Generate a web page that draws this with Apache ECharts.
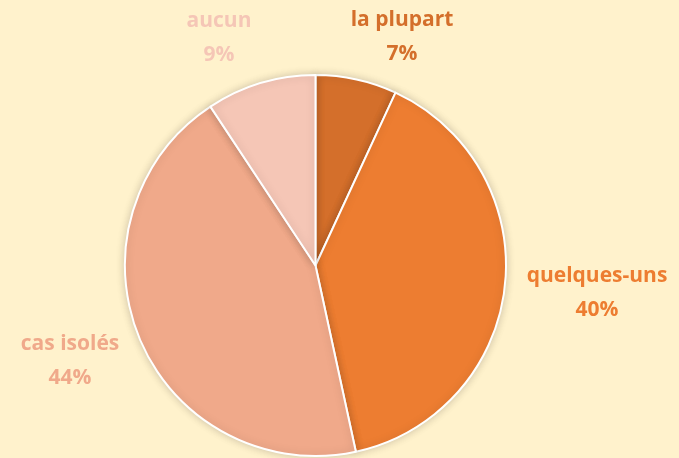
<!DOCTYPE html>
<html><head><meta charset="utf-8">
<script src="https://cdn.jsdelivr.net/npm/echarts@6/dist/echarts.min.js"></script>
<style>html,body{margin:0;padding:0;background:#FFF2CC}#c{width:679px;height:458px}</style>
</head><body><div id="c"></div>
<script>
const categories = ['la plupart', 'quelques-uns', 'cas isolés', 'aucun'];
const values = [6.9, 39.7, 44.1, 9.3];
const colors = ['#D46F2B', '#ED7D31', '#F0A98A', '#F5C6B6'];
const labelPos = [[402, 37], [597, 293], [70, 361], [219, 38]];

const chart = echarts.init(document.getElementById('c'), null, {renderer: 'canvas'});
chart.setOption({
  backgroundColor: '#FFF2CC',
  animation: false,
  series: [{
    type: 'pie',
    center: [315.5, 265.5],
    radius: 190.5,
    startAngle: 90,
    clockwise: true,
    data: categories.map((c, i) => ({
      name: c, value: values[i],
      itemStyle: {color: colors[i]},
      label: {color: colors[i]}
    })),
    itemStyle: {borderColor: '#fff', borderWidth: 2, shadowBlur: 8, shadowColor: 'rgba(0,0,0,0.18)'},
    label: {
      show: true, position: 'outside', overflow: 'none', edgeDistance: 0, bleedMargin: 0,
      formatter: p => p.name + '\n' + Math.round(p.percent) + '%',
      fontFamily: 'Open Sans', fontWeight: 'bold', fontSize: 21, lineHeight: 34, align: 'center'
    },
    labelLine: {show: false},
    labelLayout: p => ({x: labelPos[p.dataIndex][0], y: labelPos[p.dataIndex][1], align: 'center', verticalAlign: 'middle'})
  }]
});
</script></body></html>
